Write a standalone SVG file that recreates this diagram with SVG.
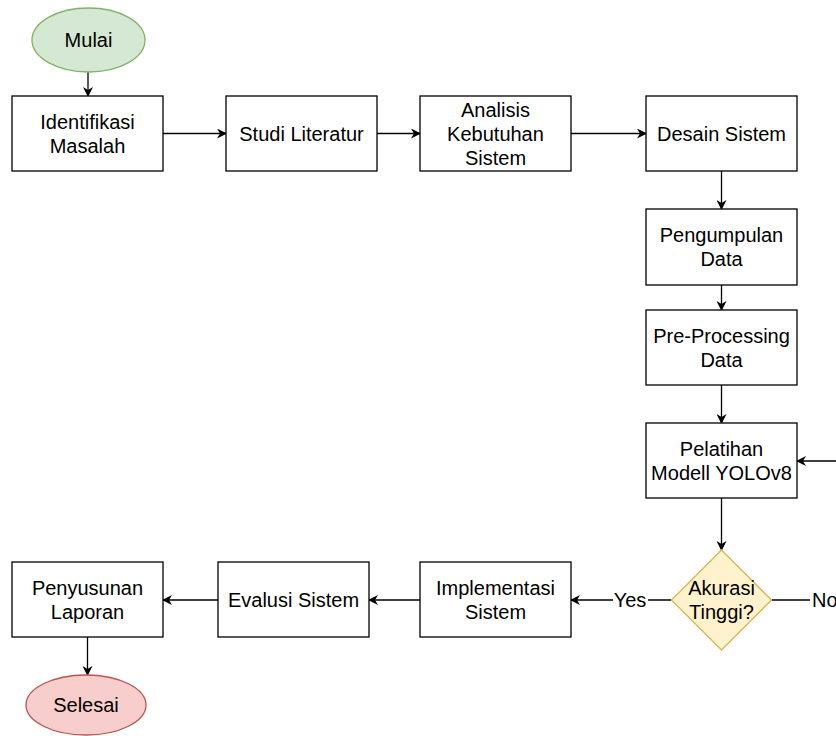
<svg xmlns="http://www.w3.org/2000/svg" width="836" height="736" viewBox="0 0 836 736">
<style>
.box{fill:#fff;stroke:#000;stroke-width:1.3}
.t{font-family:"Liberation Sans",Arial,sans-serif;font-size:20px;fill:#000;text-anchor:middle;dominant-baseline:central}
.c{fill:none;stroke:#000;stroke-width:1.3}
.a{marker-end:url(#ah)}
</style>
<defs>
<marker id="ah" viewBox="0 0 10 10" refX="9" refY="5" markerWidth="10" markerHeight="10" markerUnits="userSpaceOnUse" orient="auto">
<path d="M0,0 L10,5 L0,10 L3,5 z" fill="#000"/>
</marker>
</defs>
<rect width="836" height="736" fill="#fff"/>
<g id="connectors">
<path class="c a" d="M88,72 L88,96"/>
<path class="c a" d="M163,133.5 L226,133.5"/>
<path class="c a" d="M377,133.5 L420,133.5"/>
<path class="c a" d="M571,133.5 L646,133.5"/>
<path class="c a" d="M721.5,171 L721.5,209"/>
<path class="c a" d="M721.5,285 L721.5,310"/>
<path class="c a" d="M721.5,385 L721.5,423"/>
<path class="c a" d="M721.5,498 L721.5,550"/>
<path class="c a" d="M671.5,600 L571,600"/>
<path class="c a" d="M420,600 L369,600"/>
<path class="c a" d="M218,600 L163,600"/>
<path class="c a" d="M87.5,637 L87.5,675"/>
<path class="c a" d="M771.5,600 L870,600 L870,461 L797,461"/>
<rect x="613" y="589" width="35" height="22" fill="#fff"/>
<text class="t" x="630" y="600">Yes</text>
<rect x="810" y="589" width="30" height="22" fill="#fff"/>
<text class="t" x="812" y="600" style="text-anchor:start">No</text>
</g>
<g id="mulai">
<ellipse cx="88.5" cy="40" rx="56.5" ry="32" fill="#d5e8d4" stroke="#82b366" stroke-width="1.3"/>
<text class="t" x="88.5" y="40">Mulai</text>
</g>
<g id="identifikasi">
<rect class="box" x="12" y="96" width="151" height="75"/>
<text class="t" x="87.5" y="121.5">Identifikasi</text>
<text class="t" x="87.5" y="145.5">Masalah</text>
</g>
<g id="studi">
<rect class="box" x="226" y="96" width="151" height="75"/>
<text class="t" x="301.5" y="133.5">Studi Literatur</text>
</g>
<g id="analisis">
<rect class="box" x="420" y="96" width="151" height="75"/>
<text class="t" x="495.5" y="109.5">Analisis</text>
<text class="t" x="495.5" y="133.5">Kebutuhan</text>
<text class="t" x="495.5" y="157.5">Sistem</text>
</g>
<g id="desain">
<rect class="box" x="646" y="96" width="151" height="75"/>
<text class="t" x="721.5" y="133.5">Desain Sistem</text>
</g>
<g id="pengumpulan">
<rect class="box" x="646" y="209" width="151" height="76"/>
<text class="t" x="721.5" y="235">Pengumpulan</text>
<text class="t" x="721.5" y="259">Data</text>
</g>
<g id="preprocessing">
<rect class="box" x="646" y="310" width="151" height="75"/>
<text class="t" x="721.5" y="335.5">Pre-Processing</text>
<text class="t" x="721.5" y="359.5">Data</text>
</g>
<g id="pelatihan">
<rect class="box" x="646" y="423" width="151" height="75"/>
<text class="t" x="721.5" y="448.5">Pelatihan</text>
<text class="t" x="721.5" y="472.5">Modell YOLOv8</text>
</g>
<g id="akurasi">
<path d="M721.5,550 L771.5,600 L721.5,650 L671.5,600 z" fill="#fff2cc" stroke="#d6b656" stroke-width="1.3"/>
<text class="t" x="721.5" y="588">Akurasi</text>
<text class="t" x="721.5" y="612">Tinggi?</text>
</g>
<g id="implementasi">
<rect class="box" x="420" y="562" width="151" height="75"/>
<text class="t" x="495.5" y="587.5">Implementasi</text>
<text class="t" x="495.5" y="611.5">Sistem</text>
</g>
<g id="evaluasi">
<rect class="box" x="218" y="562" width="151" height="75"/>
<text class="t" x="293.5" y="599.5">Evalusi Sistem</text>
</g>
<g id="penyusunan">
<rect class="box" x="12" y="562" width="151" height="75"/>
<text class="t" x="87.5" y="587.5">Penyusunan</text>
<text class="t" x="87.5" y="611.5">Laporan</text>
</g>
<g id="selesai">
<ellipse cx="86" cy="705" rx="60" ry="30" fill="#f8cecc" stroke="#b85450" stroke-width="1.3"/>
<text class="t" x="86" y="705">Selesai</text>
</g>
</svg>
